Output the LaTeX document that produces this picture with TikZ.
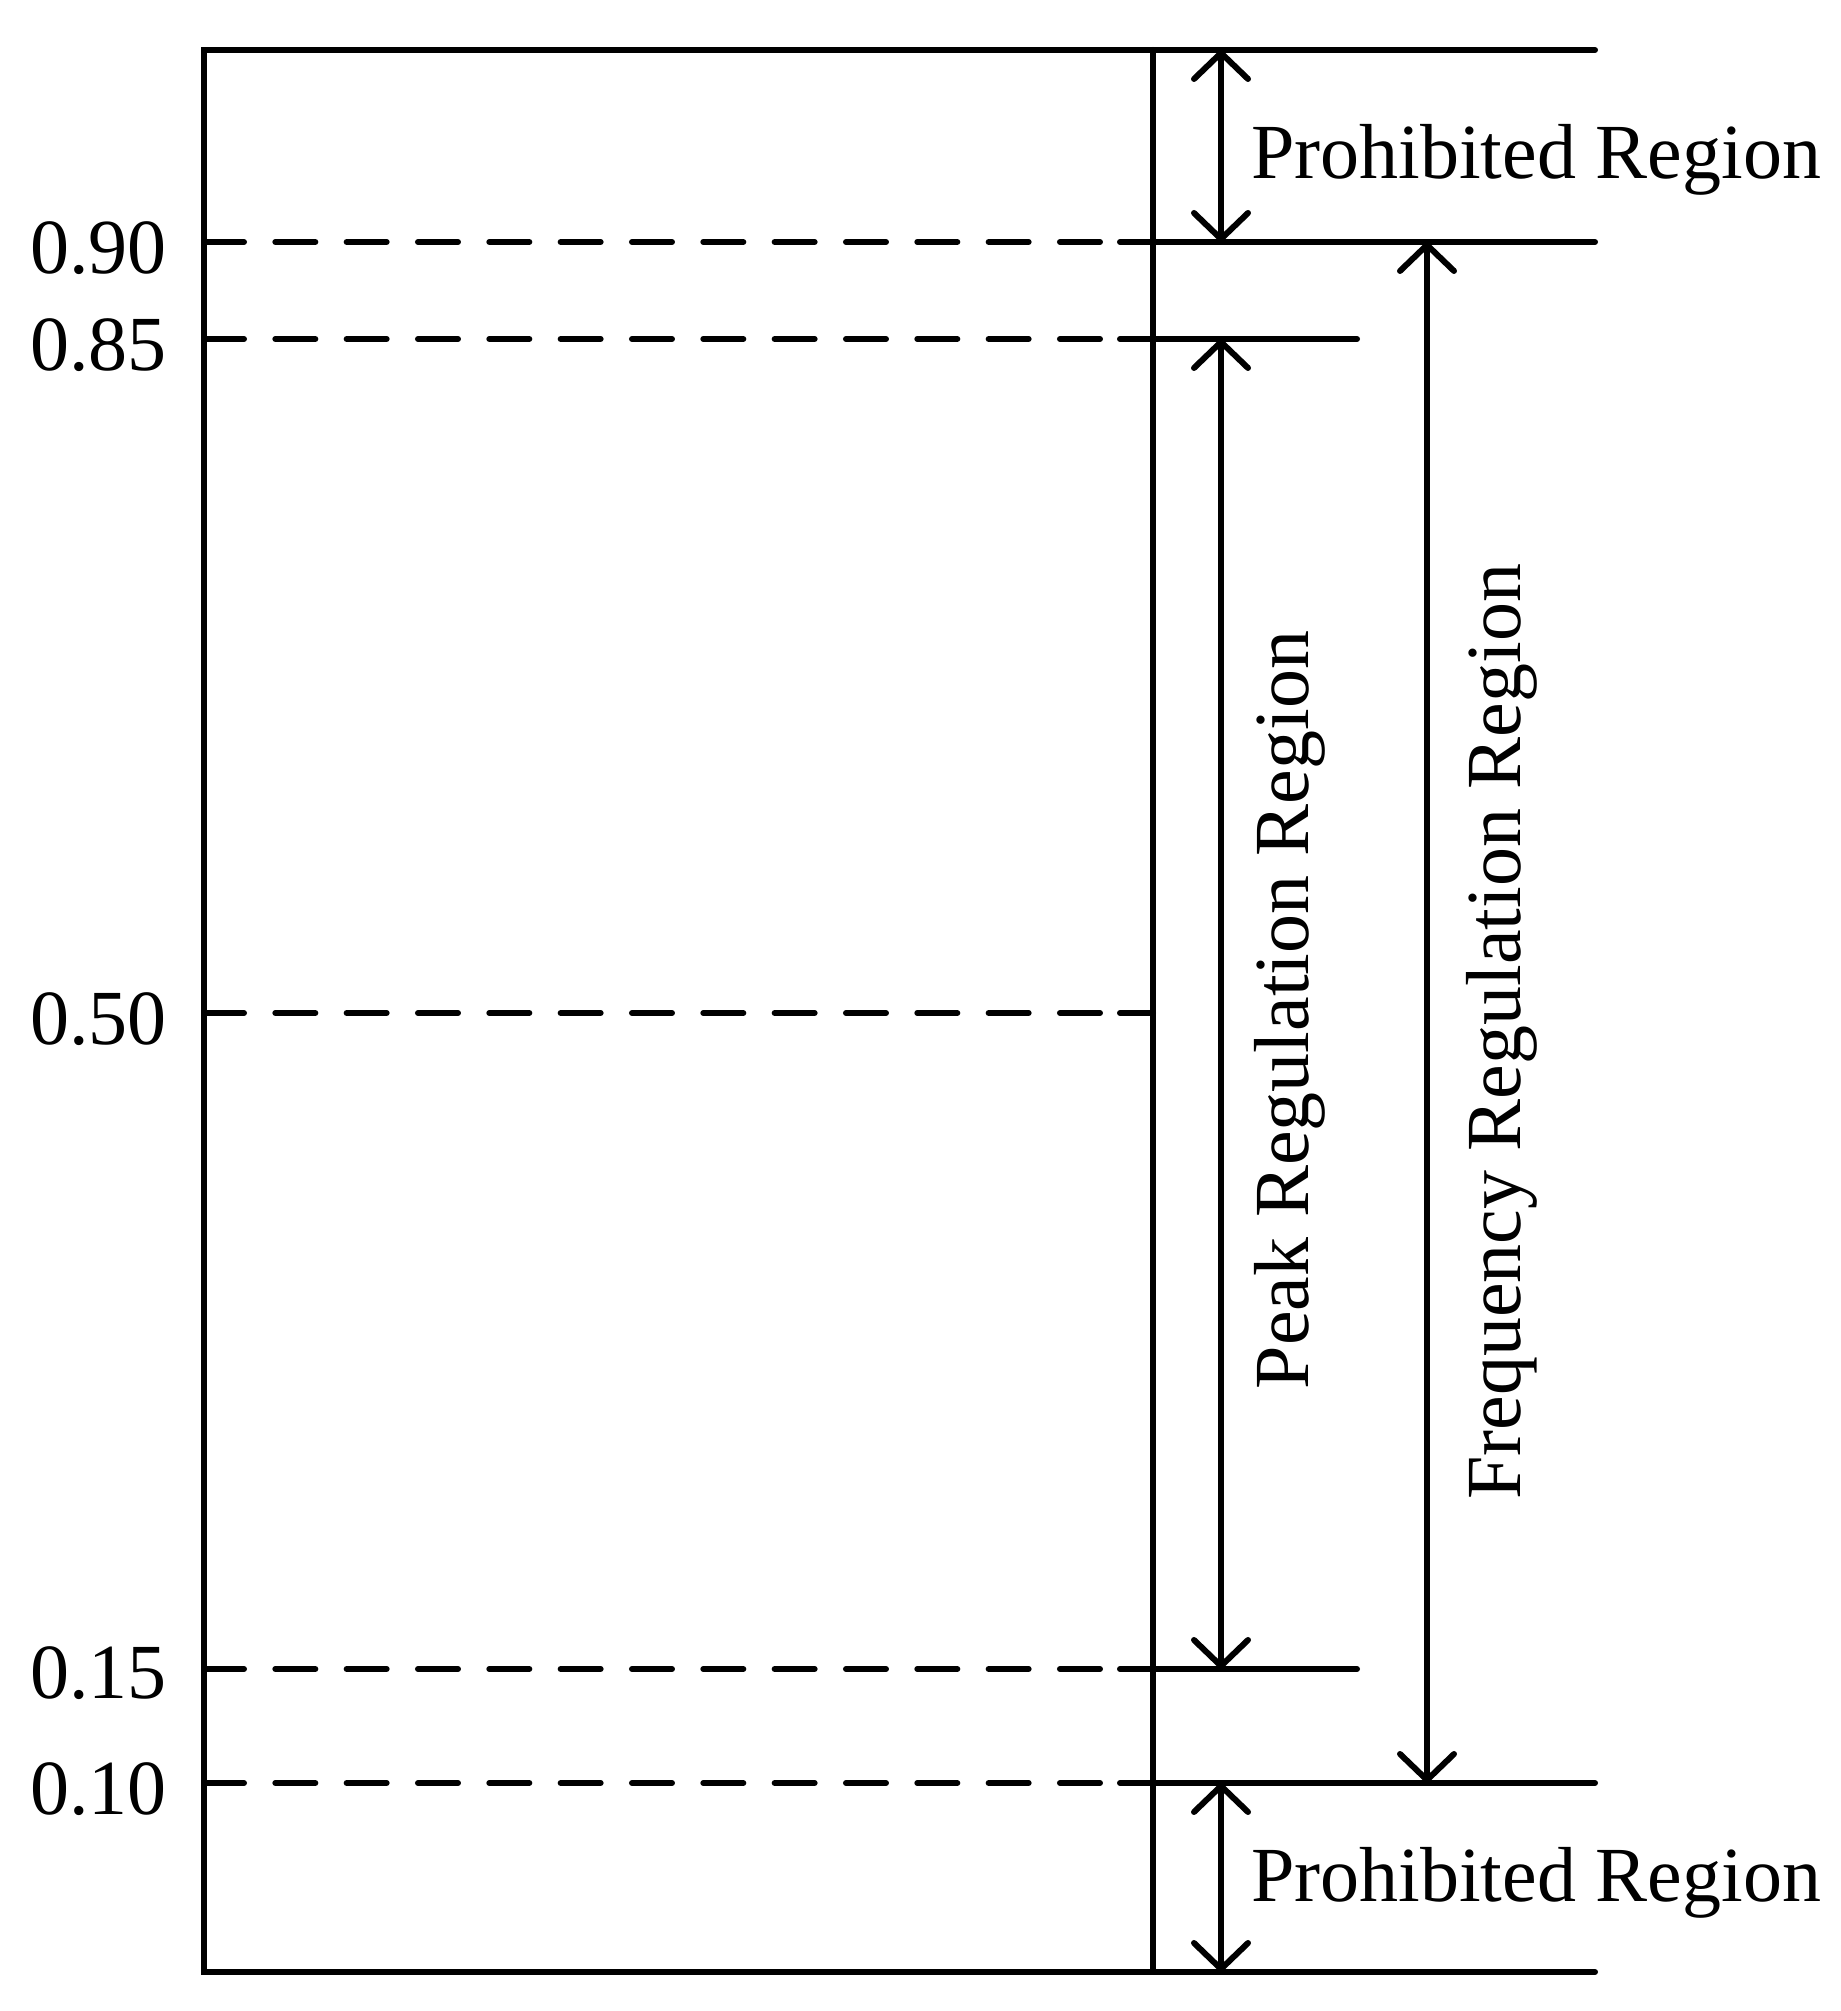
\documentclass[tikz,border=0pt]{standalone}
\usepackage{fontspec}
\setmainfont{Liberation Serif}
\usetikzlibrary{arrows.meta}
\begin{document}
\begin{tikzpicture}[x=1bp,y=1bp,
  ln/.style={line width=6bp, line cap=round},
  dsh/.style={line width=6bp, line cap=round, dash pattern=on 40bp off 31.33bp},
  dimarrow/.style={line width=6bp, line cap=round,
    {Straight Barb[length=26bp,width=54bp,line cap=round,line join=round]}-{Straight Barb[length=26bp,width=54bp,line cap=round,line join=round]}},
  lbl/.style={inner sep=0pt, font=\fontsize{78bp}{90bp}\selectfont}]
\useasboundingbox (0,0) rectangle (1841,2011);
% frame coordinates
\coordinate (TL) at (204,1961);
\coordinate (BL) at (204,39);
\coordinate (TV) at (1153,1961);
\coordinate (BV) at (1153,39);
\coordinate (TR) at (1595,1961);
\coordinate (BR) at (1595,39);
% levels: left end, dash end, solid start, right end
\coordinate (L90) at (204,1769); \coordinate (D90) at (1100,1769); \coordinate (S90) at (1120,1769); \coordinate (R90) at (1595,1769);
\coordinate (L85) at (204,1672); \coordinate (D85) at (1100,1672); \coordinate (S85) at (1120,1672); \coordinate (R85) at (1357,1672);
\coordinate (L50) at (204,998);  \coordinate (D50) at (1100,998);  \coordinate (S50) at (1120,998);  \coordinate (R50) at (1153,998);
\coordinate (L15) at (204,342);  \coordinate (D15) at (1100,342);  \coordinate (S15) at (1120,342);  \coordinate (R15) at (1357,342);
\coordinate (L10) at (204,228);  \coordinate (D10) at (1100,228);  \coordinate (S10) at (1120,228);  \coordinate (R10) at (1595,228);
% arrow ends
\coordinate (A1t) at (1221,1961); \coordinate (A1b) at (1221,1769);
\coordinate (A2t) at (1221,1672); \coordinate (A2b) at (1221,342);
\coordinate (A3t) at (1427,1769); \coordinate (A3b) at (1427,228);
\coordinate (A4t) at (1221,228);  \coordinate (A4b) at (1221,39);
% frame
\draw[ln] (TR) -- (TL) -- (BL) -- (BR);
\draw[ln] (TV) -- (BV);
% dashed levels
\foreach \k in {90,85,50,15,10} {
  \draw[dsh] (L\k) -- (D\k);
  \draw[ln] (S\k) -- (R\k);
}
% dimension arrows
\draw[dimarrow] (A1t) -- (A1b);
\draw[dimarrow] (A2t) -- (A2b);
\draw[dimarrow] (A3t) -- (A3b);
\draw[dimarrow] (A4t) -- (A4b);
% tick labels
\node[lbl, anchor=base east] (t90) at (167,1737) {0.90};
\node[lbl, anchor=base east] (t85) at (167,1640) {0.85};
\node[lbl, anchor=base east] (t50) at (167,966) {0.50};
\node[lbl, anchor=base east] (t15) at (167,312) {0.15};
\node[lbl, anchor=base east] (t10) at (167,196) {0.10};
% region labels
\node[lbl, anchor=base west] (proTop) at (1251,1832) {Prohibited Region};
\node[lbl, anchor=base west] (proBot) at (1251,109) {Prohibited Region};
\node[lbl, anchor=base, rotate=90] (peak) at (1308,1001) {Peak Regulation Region};
\node[lbl, anchor=base, rotate=90] (freq) at (1520,979) {Frequency Regulation Region};
\end{tikzpicture}
\end{document}
